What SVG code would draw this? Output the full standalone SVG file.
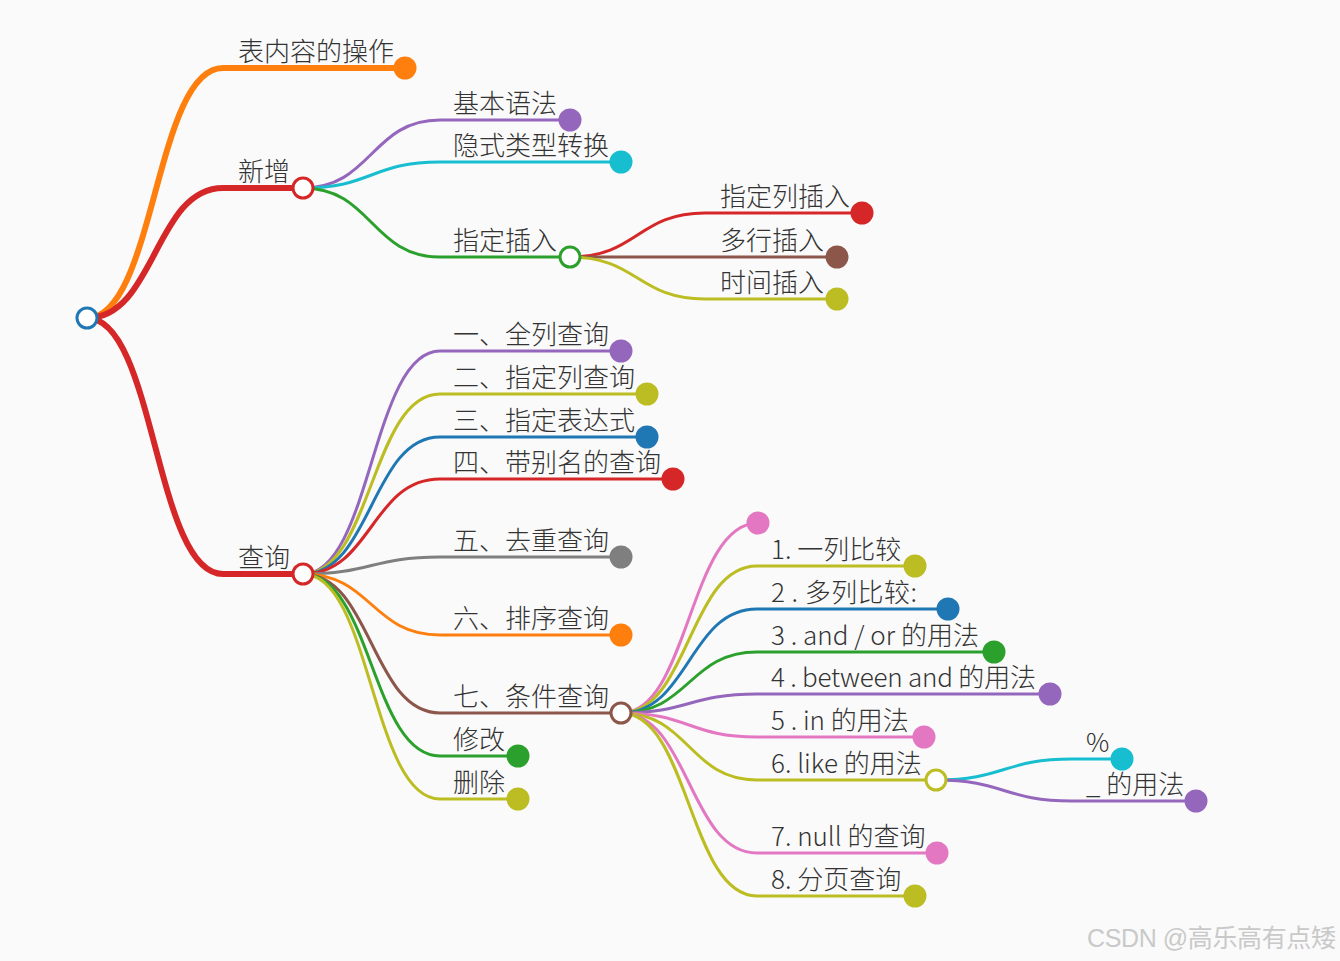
<svg xmlns="http://www.w3.org/2000/svg" width="1340" height="961" viewBox="0 0 1340 961">
<style>
.l1{fill:none;stroke-width:6}
.l2{fill:none;stroke-width:3}
text{font-family:"Noto Sans CJK SC","Noto Sans",sans-serif;font-size:26px;font-weight:300;fill:#333}
circle{stroke-width:3}
.wm{font-family:"Liberation Sans","Noto Sans CJK SC",sans-serif;font-size:25px;font-weight:400;fill:#c9c9c9}
</style>
<rect width="1340" height="961" fill="#fafafa"/>
<g id="connectors">
<path class="l1" stroke="#ff7f0e" d="M87 318C155 318 155 68 223 68H405"/>
<path class="l1" stroke="#d62728" d="M87 318C155 318 155 188 223 188H303"/>
<path class="l1" stroke="#d62728" d="M87 318C155 318 155 574 223 574H303"/>
<path class="l2" stroke="#9467bd" d="M303 188C371.5 188 371.5 120 440 120H570"/>
<path class="l2" stroke="#17becf" d="M303 188C371.5 188 371.5 162 440 162H621"/>
<path class="l2" stroke="#2ca02c" d="M303 188C371.5 188 371.5 257 440 257H570"/>
<path class="l2" stroke="#d62728" d="M570 257C637.5 257 637.5 213 705 213H862"/>
<path class="l2" stroke="#8c564b" d="M570 257C637.5 257 637.5 257 705 257H837"/>
<path class="l2" stroke="#bcbd22" d="M570 257C637.5 257 637.5 299 705 299H837"/>
<path class="l2" stroke="#9467bd" d="M303 574C371.5 574 371.5 351 440 351H621"/>
<path class="l2" stroke="#bcbd22" d="M303 574C371.5 574 371.5 394 440 394H647"/>
<path class="l2" stroke="#1f77b4" d="M303 574C371.5 574 371.5 437 440 437H647"/>
<path class="l2" stroke="#d62728" d="M303 574C371.5 574 371.5 479 440 479H673"/>
<path class="l2" stroke="#7f7f7f" d="M303 574C371.5 574 371.5 557 440 557H621"/>
<path class="l2" stroke="#ff7f0e" d="M303 574C371.5 574 371.5 635 440 635H621"/>
<path class="l2" stroke="#8c564b" d="M303 574C371.5 574 371.5 713 440 713H621"/>
<path class="l2" stroke="#2ca02c" d="M303 574C371.5 574 371.5 756 440 756H518"/>
<path class="l2" stroke="#bcbd22" d="M303 574C371.5 574 371.5 799 440 799H518"/>
<path class="l2" stroke="#e377c2" d="M621 713C689 713 689 523 758 523"/>
<path class="l2" stroke="#bcbd22" d="M621 713C689 713 689 566 757 566H915"/>
<path class="l2" stroke="#1f77b4" d="M621 713C689 713 689 609 757 609H948"/>
<path class="l2" stroke="#2ca02c" d="M621 713C689 713 689 652 757 652H994"/>
<path class="l2" stroke="#9467bd" d="M621 713C689 713 689 694 757 694H1050"/>
<path class="l2" stroke="#e377c2" d="M621 713C689 713 689 737 757 737H924"/>
<path class="l2" stroke="#bcbd22" d="M621 713C689 713 689 780 757 780H936"/>
<path class="l2" stroke="#e377c2" d="M621 713C689 713 689 853 757 853H937"/>
<path class="l2" stroke="#bcbd22" d="M621 713C689 713 689 896 757 896H915"/>
<path class="l2" stroke="#17becf" d="M936 780C1004 780 1004 759 1072 759H1122"/>
<path class="l2" stroke="#9467bd" d="M936 780C1004 780 1004 801 1072 801H1196"/>
</g>
<g id="root"><circle cx="87" cy="318" r="10" fill="#fff" stroke="#1f77b4"/></g>
<g id="n-table"><text x="238" y="61">表内容的操作</text><circle cx="405" cy="68" r="10" fill="#ff7f0e" stroke="#ff7f0e"/></g>
<g id="n-add"><text x="238" y="181">新增</text><circle cx="303" cy="188" r="10" fill="#fff" stroke="#d62728"/></g>
<g id="n-query"><text x="238" y="567">查询</text><circle cx="303" cy="574" r="10" fill="#fff" stroke="#d62728"/></g>
<g id="n-basic"><text x="453" y="113">基本语法</text><circle cx="570" cy="120" r="10" fill="#9467bd" stroke="#9467bd"/></g>
<g id="n-implicit"><text x="453" y="155">隐式类型转换</text><circle cx="621" cy="162" r="10" fill="#17becf" stroke="#17becf"/></g>
<g id="n-insert"><text x="453" y="250">指定插入</text><circle cx="570" cy="257" r="10" fill="#fff" stroke="#2ca02c"/></g>
<g id="n-col-insert"><text x="720" y="206">指定列插入</text><circle cx="862" cy="213" r="10" fill="#d62728" stroke="#d62728"/></g>
<g id="n-multi-insert"><text x="720" y="250">多行插入</text><circle cx="837" cy="257" r="10" fill="#8c564b" stroke="#8c564b"/></g>
<g id="n-time-insert"><text x="720" y="292">时间插入</text><circle cx="837" cy="299" r="10" fill="#bcbd22" stroke="#bcbd22"/></g>
<g id="n-q1"><text x="453" y="344">一、全列查询</text><circle cx="621" cy="351" r="10" fill="#9467bd" stroke="#9467bd"/></g>
<g id="n-q2"><text x="453" y="387">二、指定列查询</text><circle cx="647" cy="394" r="10" fill="#bcbd22" stroke="#bcbd22"/></g>
<g id="n-q3"><text x="453" y="430">三、指定表达式</text><circle cx="647" cy="437" r="10" fill="#1f77b4" stroke="#1f77b4"/></g>
<g id="n-q4"><text x="453" y="472">四、带别名的查询</text><circle cx="673" cy="479" r="10" fill="#d62728" stroke="#d62728"/></g>
<g id="n-q5"><text x="453" y="550">五、去重查询</text><circle cx="621" cy="557" r="10" fill="#7f7f7f" stroke="#7f7f7f"/></g>
<g id="n-q6"><text x="453" y="628">六、排序查询</text><circle cx="621" cy="635" r="10" fill="#ff7f0e" stroke="#ff7f0e"/></g>
<g id="n-q7"><text x="453" y="706">七、条件查询</text><circle cx="621" cy="713" r="10" fill="#fff" stroke="#8c564b"/></g>
<g id="n-update"><text x="453" y="749">修改</text><circle cx="518" cy="756" r="10" fill="#2ca02c" stroke="#2ca02c"/></g>
<g id="n-delete"><text x="453" y="792">删除</text><circle cx="518" cy="799" r="10" fill="#bcbd22" stroke="#bcbd22"/></g>
<g id="n-c0"><circle cx="758" cy="523" r="10" fill="#e377c2" stroke="#e377c2"/></g>
<g id="n-c1"><text x="771" y="559">1. 一列比较</text><circle cx="915" cy="566" r="10" fill="#bcbd22" stroke="#bcbd22"/></g>
<g id="n-c2"><text x="771" y="602" textLength="146">2 . 多列比较:</text><circle cx="948" cy="609" r="10" fill="#1f77b4" stroke="#1f77b4"/></g>
<g id="n-c3"><text x="771" y="645" textLength="208">3 . and / or 的用法</text><circle cx="994" cy="652" r="10" fill="#2ca02c" stroke="#2ca02c"/></g>
<g id="n-c4"><text x="771" y="687" textLength="265">4 . between and 的用法</text><circle cx="1050" cy="694" r="10" fill="#9467bd" stroke="#9467bd"/></g>
<g id="n-c5"><text x="771" y="730">5 . in 的用法</text><circle cx="924" cy="737" r="10" fill="#e377c2" stroke="#e377c2"/></g>
<g id="n-c6"><text x="771" y="773">6. like 的用法</text><circle cx="936" cy="780" r="10" fill="#fff" stroke="#bcbd22"/></g>
<g id="n-c7"><text x="771" y="846">7. null 的查询</text><circle cx="937" cy="853" r="10" fill="#e377c2" stroke="#e377c2"/></g>
<g id="n-c8"><text x="771" y="889">8. 分页查询</text><circle cx="915" cy="896" r="10" fill="#bcbd22" stroke="#bcbd22"/></g>
<g id="n-percent"><text x="1086" y="752">%</text><circle cx="1122" cy="759" r="10" fill="#17becf" stroke="#17becf"/></g>
<g id="n-underscore"><text x="1086" y="794">_ 的用法</text><circle cx="1196" cy="801" r="10" fill="#9467bd" stroke="#9467bd"/></g>
<text class="wm" x="1087" y="947" textLength="249">CSDN @高乐高有点矮</text>
</svg>
